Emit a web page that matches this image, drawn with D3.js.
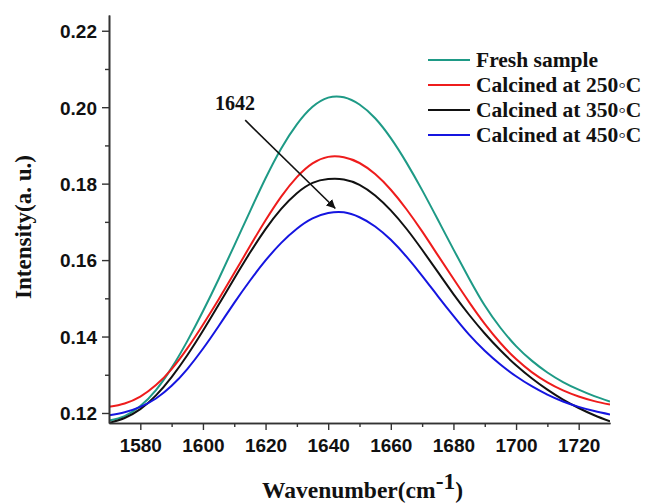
<!DOCTYPE html>
<html>
<head>
<meta charset="utf-8">
<script src="https://cdn.jsdelivr.net/npm/d3@7"></script>
<style>
  html, body { margin: 0; padding: 0; background: #fff; }
  svg { display: block; }
  .tick-label { font-family: "Liberation Sans", Arial, sans-serif; font-weight: bold; font-size: 19px; fill: #111; }
  .serif { font-family: "Liberation Serif", "Times New Roman", serif; font-weight: bold; fill: #111; }
</style>
</head>
<body>
<script>
// Wavenumber grid (cm^-1)
const wavenumber = [1570, 1575, 1580, 1585, 1590, 1595, 1600, 1605, 1610, 1615, 1620, 1625, 1630, 1635, 1640, 1645,
  1650, 1655, 1660, 1665, 1670, 1675, 1680, 1685, 1690, 1695, 1700, 1705, 1710, 1715, 1720, 1725, 1730];

// Intensity (a. u.) for each sample
const freshSample = [0.1180, 0.1192, 0.1218, 0.1260, 0.1318, 0.1388, 0.1466, 0.1550, 0.1638, 0.1727, 0.1814, 0.1892,
  0.1955, 0.2001, 0.2025, 0.2026, 0.2007, 0.1971, 0.1919, 0.1855, 0.1783, 0.1706, 0.1628, 0.1552, 0.1481, 0.1423,
  0.1375, 0.1337, 0.1306, 0.1281, 0.1261, 0.1244, 0.1230];
const calcined250 = [0.1216, 0.1225, 0.1243, 0.1273, 0.1315, 0.1369, 0.1431, 0.1497, 0.1566, 0.1636, 0.1704, 0.1766,
  0.1817, 0.1853, 0.1870, 0.1869, 0.1854, 0.1825, 0.1784, 0.1733, 0.1675, 0.1613, 0.1551, 0.1490, 0.1433, 0.1383,
  0.1341, 0.1307, 0.1280, 0.1259, 0.1243, 0.1231, 0.1222];
const calcined350 = [0.1174, 0.1187, 0.1210, 0.1246, 0.1294, 0.1351, 0.1415, 0.1483, 0.1552, 0.1619, 0.1681, 0.1734,
  0.1775, 0.1802, 0.1812, 0.1811, 0.1797, 0.1769, 0.1730, 0.1682, 0.1627, 0.1569, 0.1511, 0.1457, 0.1408, 0.1364,
  0.1325, 0.1291, 0.1261, 0.1235, 0.1213, 0.1194, 0.1178];
const calcined450 = [0.1194, 0.1202, 0.1216, 0.1238, 0.1271, 0.1315, 0.1368, 0.1427, 0.1488, 0.1546, 0.1599, 0.1645,
  0.1682, 0.1709, 0.1723, 0.1725, 0.1712, 0.1688, 0.1653, 0.1609, 0.1559, 0.1506, 0.1454, 0.1405, 0.1363, 0.1327,
  0.1296, 0.1270, 0.1248, 0.1230, 0.1216, 0.1205, 0.1196];

const seriesNames = ["Fresh sample", "Calcined at 250\u25E6C", "Calcined at 350\u25E6C", "Calcined at 450\u25E6C"];
const seriesValues = [freshSample, calcined250, calcined350, calcined450];
const seriesColors = ["#1e9a86", "#ee1c1c", "#111111", "#1515e0"];

const xTicks = [1580, 1600, 1620, 1640, 1660, 1680, 1700, 1720];
const yTicks = [0.12, 0.14, 0.16, 0.18, 0.20, 0.22];

// Peak annotation: label text and arrow from / to (wavenumber, intensity)
const peakLabel = "1642";
const arrowFrom = [1613.5, 0.1966];
const arrowTo = [1642.3, 0.1735];

const W = 646, H = 503;
const margin = { left: 109, right: 36, top: 15, bottom: 80 };

const svg = d3.select("body").append("svg").attr("width", W).attr("height", H);
svg.append("rect").attr("width", W).attr("height", H).attr("fill", "#fff");

const x = d3.scaleLinear().domain([1570, 1730]).range([margin.left, W - margin.right]);
const y = d3.scaleLinear().domain([0.11738, 0.22412]).range([H - margin.bottom, margin.top]);

const defs = svg.append("defs");
defs.append("clipPath").attr("id", "plot-clip").append("rect")
  .attr("x", x.range()[0]).attr("y", y.range()[1])
  .attr("width", x.range()[1] - x.range()[0]).attr("height", y.range()[0] - y.range()[1]);

// Curves
const line = d3.line().curve(d3.curveNatural)
  .x((d, i) => x(wavenumber[i])).y(d => y(d));

const curves = svg.append("g").attr("clip-path", "url(#plot-clip)");
seriesValues.forEach((vals, k) => {
  curves.append("path").datum(vals)
    .attr("d", line)
    .attr("fill", "none")
    .attr("stroke", seriesColors[k])
    .attr("stroke-width", 2);
});

// Axes
const axisColor = "#333";
const xMinor = d3.range(1580, 1730, 10).filter(v => !xTicks.includes(v));
const yMinor = [0.13, 0.15, 0.17, 0.19, 0.21];

const xAxis = svg.append("g").attr("transform", `translate(0,${y.range()[0]})`)
  .call(d3.axisBottom(x).tickValues(xTicks).tickFormat(d3.format("d")).tickSize(7).tickSizeOuter(0));
const xAxisMinor = svg.append("g").attr("transform", `translate(0,${y.range()[0]})`)
  .call(d3.axisBottom(x).tickValues(xMinor).tickFormat("").tickSize(4).tickSizeOuter(0));
const yAxis = svg.append("g").attr("transform", `translate(${x.range()[0]},0)`)
  .call(d3.axisLeft(y).tickValues(yTicks).tickFormat(d3.format(".2f")).tickSize(7).tickSizeOuter(0));
const yAxisMinor = svg.append("g").attr("transform", `translate(${x.range()[0]},0)`)
  .call(d3.axisLeft(y).tickValues(yMinor).tickFormat("").tickSize(4).tickSizeOuter(0));

[xAxis, xAxisMinor, yAxis, yAxisMinor].forEach(g => {
  g.select(".domain").attr("stroke", axisColor).attr("stroke-width", 1.6);
  g.selectAll(".tick line").attr("stroke", axisColor).attr("stroke-width", 1.4);
});
xAxis.selectAll(".tick text").attr("class", "tick-label").attr("dy", null).attr("y", 29);
yAxis.selectAll(".tick text").attr("class", "tick-label").attr("x", -12).attr("dy", "0.36em");

// Axis titles
const xTitle = svg.append("text").attr("class", "serif")
  .attr("x", 262).attr("y", 498).attr("font-size", 23.5);
xTitle.append("tspan").text("Wavenumber(cm");
xTitle.append("tspan").attr("dy", -9).text("-1");
xTitle.append("tspan").attr("dy", 9).text(")");

svg.append("text").attr("class", "serif")
  .attr("transform", "translate(31,227) rotate(-90)")
  .attr("text-anchor", "middle").attr("font-size", 23)
  .text("Intensity(a. u.)");

// Legend
const legend = svg.append("g").attr("transform", "translate(428,60)");
seriesNames.forEach((name, k) => {
  const row = legend.append("g").attr("transform", `translate(0,${k * 25})`);
  row.append("line").attr("x1", 0).attr("x2", 42).attr("y1", 0).attr("y2", 0)
    .attr("stroke", seriesColors[k]).attr("stroke-width", 2);
  row.append("text").attr("class", "serif").attr("x", 48).attr("y", 7)
    .attr("font-size", 21.5).text(name);
});

// Peak annotation
defs.append("marker").attr("id", "arrowhead")
  .attr("viewBox", "0 0 10 10").attr("refX", 10).attr("refY", 5)
  .attr("markerWidth", 9).attr("markerHeight", 9).attr("markerUnits", "userSpaceOnUse")
  .attr("orient", "auto")
  .append("path").attr("d", "M0,0 L10,5 L0,10 z").attr("fill", "#111");

svg.append("line")
  .attr("x1", x(arrowFrom[0])).attr("y1", y(arrowFrom[1]))
  .attr("x2", x(arrowTo[0])).attr("y2", y(arrowTo[1]))
  .attr("stroke", "#111").attr("stroke-width", 1.6)
  .attr("marker-end", "url(#arrowhead)");

svg.append("text").attr("class", "serif")
  .attr("x", 235).attr("y", 110).attr("text-anchor", "middle").attr("font-size", 20)
  .text(peakLabel);
</script>
</body>
</html>
